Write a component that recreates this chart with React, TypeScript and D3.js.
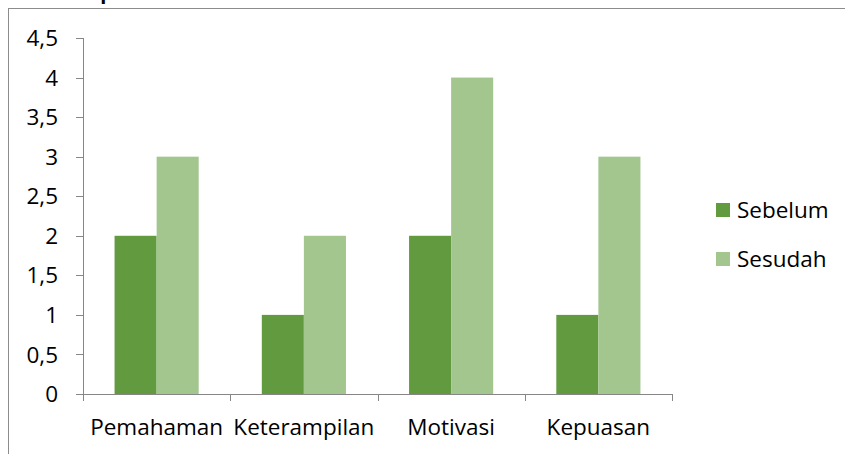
import React, { useEffect, useRef } from 'react';
import * as d3 from 'd3';

const categories = ['Pemahaman', 'Keterampilan', 'Motivasi', 'Kepuasan'];
const seriesNames = ['Sebelum', 'Sesudah'];
const sebelum = [2, 1, 2, 1];
const sesudah = [3, 2, 4, 3];
const yTicks = [0, 0.5, 1, 1.5, 2, 2.5, 3, 3.5, 4, 4.5];
const colors = ['#629b3f', '#a3c68f'];

const FONT = '"Open Sans", "Noto Sans", sans-serif';
const FS = 22.5;

function App() {
  const svgRef = useRef<SVGSVGElement>(null);

  useEffect(() => {
    const width = 845;
    const height = 454;
    const left = 83, right = 672, top = 38, bottom = 394;

    const svg = d3.select(svgRef.current)
      .attr('width', width)
      .attr('height', height);
    svg.selectAll('*').remove();

    // title, mostly cut off above the chart frame
    svg.append('text')
      .attr('x', 8)
      .attr('y', -1)
      .attr('font-family', FONT)
      .attr('font-size', 20)
      .attr('font-weight', 'bold')
      .attr('fill', '#000')
      .text('Grafik Kepuasan');

    // chart frame
    svg.append('rect')
      .attr('x', 8.5).attr('y', 8.5)
      .attr('width', 900).attr('height', 500)
      .attr('fill', 'white')
      .attr('stroke', '#8c8c8c')
      .attr('stroke-width', 1);

    const x0 = d3.scaleBand().domain(categories).range([left, right]).paddingInner(0).paddingOuter(0);
    const barW = x0.bandwidth() / 3.5;
    const x1 = d3.scaleBand().domain(seriesNames).range([0, barW * 2]);
    const y = d3.scaleLinear().domain([0, 4.5]).range([bottom, top]);

    const values = [sebelum, sesudah];
    const g = svg.append('g');
    seriesNames.forEach((s, si) => {
      g.append('g')
        .selectAll('rect')
        .data(categories)
        .join('rect')
        .attr('x', c => x0(c)! + (x0.bandwidth() - barW * 2) / 2 + x1(s)!)
        .attr('y', (c, i) => y(values[si][i]))
        .attr('width', barW)
        .attr('height', (c, i) => bottom - y(values[si][i]))
        .attr('fill', colors[si]);
    });

    // y axis
    const yAxis = svg.append('g').attr('stroke', '#868686').attr('stroke-width', 1);
    yAxis.append('line').attr('x1', left + 0.5).attr('x2', left + 0.5).attr('y1', top).attr('y2', bottom);
    yTicks.forEach(t => {
      yAxis.append('line')
        .attr('x1', left - 7).attr('x2', left)
        .attr('y1', Math.round(y(t)) + 0.5).attr('y2', Math.round(y(t)) + 0.5);
    });
    svg.append('g').selectAll('text')
      .data(yTicks)
      .join('text')
      .attr('x', 58)
      .attr('y', d => y(d))
      .attr('dy', '0.36em')
      .attr('text-anchor', 'end')
      .attr('font-family', FONT)
      .attr('font-size', FS)
      .attr('fill', '#000')
      .text(d => String(d).replace('.', ','));

    // x axis
    const xAxis = svg.append('g').attr('stroke', '#868686').attr('stroke-width', 1);
    xAxis.append('line').attr('x1', left - 7).attr('x2', right).attr('y1', bottom + 0.5).attr('y2', bottom + 0.5);
    [...categories.map(c => x0(c)!), right].forEach(xv => {
      xAxis.append('line')
        .attr('x1', Math.round(xv) + 0.5).attr('x2', Math.round(xv) + 0.5)
        .attr('y1', bottom).attr('y2', bottom + 7);
    });
    svg.append('g').selectAll('text')
      .data(categories)
      .join('text')
      .attr('x', c => x0(c)! + x0.bandwidth() / 2)
      .attr('y', 435)
      .attr('text-anchor', 'middle')
      .attr('font-family', FONT)
      .attr('font-size', FS)
      .attr('fill', '#000')
      .text(c => c);

    // legend
    const legend = svg.append('g');
    seriesNames.forEach((s, i) => {
      const cy = 210 + i * 49;
      legend.append('rect')
        .attr('x', 716).attr('y', cy - 7)
        .attr('width', 14).attr('height', 14)
        .attr('fill', colors[i]);
      legend.append('text')
        .attr('x', 737).attr('y', cy)
        .attr('dy', '0.36em')
        .attr('font-family', FONT)
        .attr('font-size', FS)
        .attr('fill', '#000')
        .text(s);
    });
  }, []);

  return (
    <svg ref={svgRef} style={{ position: 'absolute', left: 0, top: 0 }}></svg>
  );
}

export default App;
